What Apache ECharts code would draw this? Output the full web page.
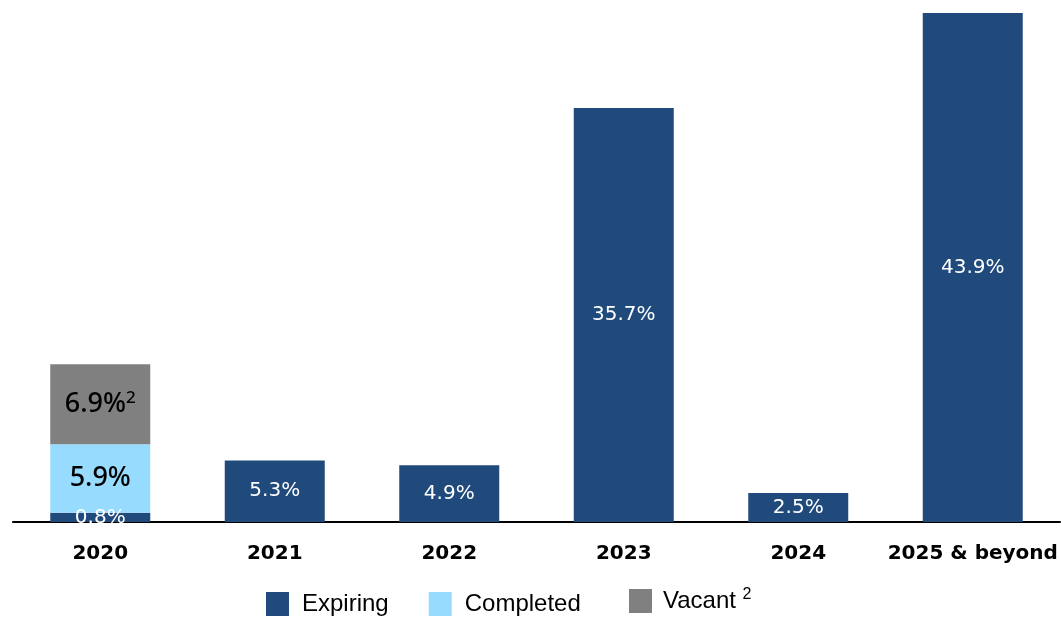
<!DOCTYPE html>
<html><head><meta charset="utf-8">
<script src="https://cdn.jsdelivr.net/npm/echarts@6/dist/echarts.min.js"></script>
<style>html,body{margin:0;padding:0;background:#fff}#c{width:1061px;height:618px}</style>
</head><body><div id="c"></div>
<script>
const categories = ['2020', '2021', '2022', '2023', '2024', '2025 & beyond'];
const expiring = [0.8, 5.3, 4.9, 35.7, 2.5, 43.9];
const completed = [5.9, null, null, null, null, null];
const vacant = [6.9, null, null, null, null, null];

const chart = echarts.init(document.getElementById('c'));
const whiteLbl = {show: true, position: 'inside', color: '#fff', fontFamily: 'DejaVu Sans', fontSize: 20,
  formatter: p => p.value.toFixed(1) + '%'};
const blackLbl = {show: true, position: 'inside', color: '#000', fontFamily: 'Noto Sans', fontSize: 27, fontWeight: 500};
const legendText = (pl) => ({fontFamily: 'Liberation Sans', fontSize: 24, color: '#000', padding: [0, 0, 0, pl],
  rich: {sup: {fontSize: 16, fontFamily: 'Liberation Sans', color: '#000', padding: [0, 0, 12, 0]}}});
chart.setOption({
  animation: false,
  grid: {left: 13, right: 1, top: 13, bottom: 96, containLabel: false},
  xAxis: {type: 'category', data: categories,
    axisLine: {lineStyle: {color: '#000', width: 2}}, axisTick: {show: false},
    axisLabel: {interval: 0, color: '#000', fontFamily: 'DejaVu Sans', fontWeight: 'bold', fontSize: 20, margin: 22}},
  yAxis: {type: 'value', min: 0, max: 43.9, show: false, splitLine: {show: false}},
  legend: [
    {left: 266, top: 592, padding: 0, itemWidth: 23, itemHeight: 24, itemGap: 40, icon: 'rect',
      textStyle: legendText(8), data: ['Expiring', 'Completed']},
    {left: 629, top: 587, padding: 0, itemWidth: 23, itemHeight: 24, icon: 'rect',
      textStyle: legendText(6), formatter: n => 'Vacant {sup|2}', data: ['Vacant']}
  ],
  series: [
    {name: 'Expiring', type: 'bar', stack: 's', data: expiring, barWidth: 100,
      itemStyle: {color: '#204A7C'}, label: whiteLbl},
    {name: 'Completed', type: 'bar', stack: 's', data: completed,
      itemStyle: {color: '#97DBFF'},
      label: Object.assign({}, blackLbl, {formatter: p => p.value.toFixed(1) + '%'})},
    {name: 'Vacant', type: 'bar', stack: 's', data: vacant,
      itemStyle: {color: '#808080'},
      label: Object.assign({}, blackLbl, {formatter: p => p.value.toFixed(1) + '%{sup|2}',
        rich: {sup: {fontSize: 17, fontFamily: 'Noto Sans', color: '#000', padding: [0, 0, 12, 0]}}})}
  ]
});
</script></body></html>
